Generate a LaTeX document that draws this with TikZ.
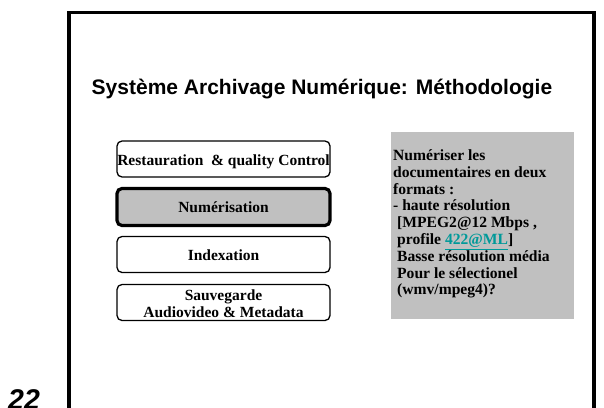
\documentclass[tikz,border=0pt]{standalone}
\usepackage{fontspec}
\setmainfont{Liberation Serif}
\newfontfamily\arialfont{Liberation Sans}
\usepackage{xcolor}
\definecolor{boxgray}{HTML}{C0C0C0}
\definecolor{linkteal}{HTML}{009999}
\begin{document}
\begin{tikzpicture}[x=1pt,y=-1pt,
  stepbox/.style={draw=black, line width=1.3pt, rounded corners=5pt, fill=white,
    minimum width=213pt, minimum height=36pt, inner sep=0pt},
  activebox/.style={stepbox, line width=3.2pt, fill=boxgray, minimum height=37pt},
  steptext/.style={anchor=base, inner sep=0pt, font=\fontsize{15.5}{17}\selectfont\bfseries},
  notebox/.style={fill=boxgray, inner sep=0pt, minimum width=183pt, minimum height=187pt},
  noteline/.style={anchor=base west, inner sep=0pt, font=\fontsize{15.6}{16}\selectfont\bfseries},
  titletext/.style={anchor=base, inner sep=0pt, font=\arialfont\fontsize{21}{24}\selectfont\bfseries},
  pagenum/.style={font=\arialfont\fontsize{28.5}{30}\selectfont\bfseries\itshape, anchor=base west, inner sep=0pt}
]
\useasboundingbox (0,0) rectangle (604,407);
\fill[white] (0,0) rectangle (604,407);
% slide frame
\draw[line width=3.8pt] (69,412) -- (69,12.5) -- (594,12.5) -- (594,412);
% title
\node[titletext] (title) at (322,94) {Système Archivage Numérique: Méthodologie};
% step boxes
\node[stepbox] (rest) at (223.5,159) {};
\node[steptext] (resttxt) at (rest.center |- 0,165.5) {Restauration \ \& quality Control};
\node[activebox] (num) at (223.5,207) {};
\node[steptext] (numtxt) at (num.center |- 0,212.5) {Numérisation};
\node[stepbox] (idx) at (223.5,254.5) {};
\node[steptext] (idxtxt) at (idx.center |- 0,260.5) {Indexation};
\node[stepbox] (sauv) at (223.5,302.5) {};
\node[steptext] (sauvtxt1) at (sauv.center |- 0,300) {Sauvegarde};
\node[steptext] (sauvtxt2) at (sauv.center |- 0,317) {Audiovideo \& Metadata};
% note box
\node[notebox, anchor=north west] (note) at (391,132) {};
\node[noteline] (n1) at (393,160.5) {Numériser les};
\node[noteline] (n2) at (393,177.3) {documentaires en deux};
\node[noteline] (n3) at (393,194.1) {formats :};
\node[noteline] (n4) at (393,210.9) {- haute résolution};
\node[noteline] (n5) at (397,227.7) {[MPEG2@12 Mbps ,};
\node[noteline] (n6) at (397,244.5) {profile {\color{linkteal}\underline{422@ML}}]};
\node[noteline] (n7) at (397,261.3) {Basse résolution média};
\node[noteline] (n8) at (397,278.1) {Pour le sélectionel};
\node[noteline] (n9) at (397,294.9) {(wmv/mpeg4)?};
% page number
\node[pagenum] (pn) at (8,409) {22};
\end{tikzpicture}
\end{document}
